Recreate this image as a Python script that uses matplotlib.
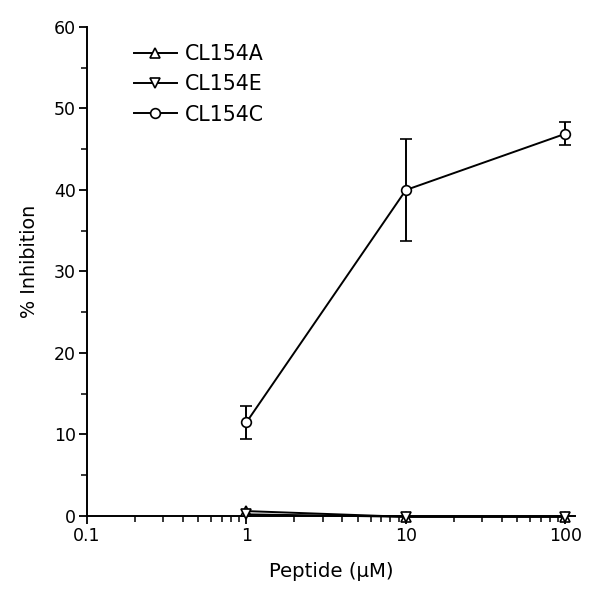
import matplotlib
matplotlib.use("Agg")
import matplotlib.pyplot as plt
from matplotlib.lines import Line2D
from matplotlib.ticker import LogLocator, FixedLocator, MultipleLocator, FixedFormatter

plt.rcParams['font.family'] = ['DejaVu Sans']

# data
conc = [1, 10, 100]
cl154a = [0.6, -0.1, -0.1]
cl154e = [0.2, -0.1, -0.1]
cl154c = [11.5, 40.0, 46.9]
cl154c_err = [2.0, 6.3, 1.4]

series_labels = ["CL154A", "CL154E", "CL154C"]
series_markers = ["^", "v", "o"]

x_ticks = [0.1, 1, 10, 100]
x_ticklabels = ["0.1", "1", "10", "100"]
y_ticks = [0, 10, 20, 30, 40, 50, 60]

fig = plt.figure(figsize=(6.01, 5.92), dpi=100)
ax = fig.add_axes([0.1448, 0.1284, 0.812, 0.826])

mk = dict(color="black", lw=1.4, markersize=7, markerfacecolor="white",
          markeredgecolor="black", markeredgewidth=1.2, clip_on=False)

ax.plot(conc, cl154a, marker="^", zorder=3, **mk)
ax.plot(conc, cl154e, marker="v", zorder=3, **mk)
ax.errorbar(conc, cl154c, yerr=cl154c_err, marker="o", capsize=4.5,
            elinewidth=1.4, capthick=1.4, zorder=3, **mk)

ax.set_xscale("log")
ax.set_xlim(0.1, 115)
ax.set_ylim(0, 60)

ax.xaxis.set_major_locator(FixedLocator(x_ticks))
ax.xaxis.set_major_formatter(FixedFormatter(x_ticklabels))
ax.xaxis.set_minor_locator(LogLocator(base=10, subs=range(2, 10)))
ax.yaxis.set_major_locator(FixedLocator(y_ticks))
ax.yaxis.set_minor_locator(MultipleLocator(5))

for s in ["top", "right"]:
    ax.spines[s].set_visible(False)
for s in ["left", "bottom"]:
    ax.spines[s].set_linewidth(1.4)

ax.tick_params(axis="both", which="major", direction="out", length=6, width=1.3,
               labelsize=12.5, pad=2)
ax.tick_params(axis="both", which="minor", direction="out", length=4, width=1.1)

ax.set_xlabel("Peptide (\u03bcM)", fontsize=14.2, labelpad=12)
ax.set_ylabel("% Inhibition", fontsize=13.8)
ax.yaxis.set_label_coords(-0.098, 0.52)

handles = [Line2D([], [], marker=m, color="black", lw=1.4, markersize=7,
                  markerfacecolor="white", markeredgecolor="black", markeredgewidth=1.2)
           for m in series_markers]
ax.legend(handles, series_labels, loc="upper left", bbox_to_anchor=(0.058, 1.003),
          frameon=False, fontsize=14.8, handlelength=2.1, handletextpad=0.4,
          labelspacing=0.5)

fig.savefig("out.png", dpi=100)
